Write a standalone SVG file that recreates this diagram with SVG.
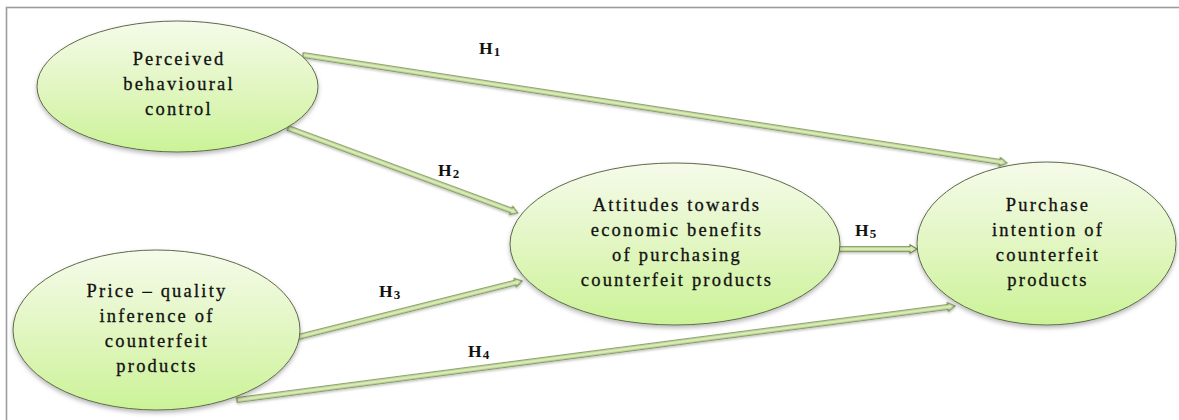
<svg xmlns="http://www.w3.org/2000/svg" width="1179" height="420" viewBox="0 0 1179 420">
  <defs>
    <linearGradient id="nodeFill" x1="0" y1="0" x2="0" y2="1">
      <stop offset="0" stop-color="#f5fbea"/>
      <stop offset="0.5" stop-color="#e2f6c2"/>
      <stop offset="1" stop-color="#cbf397"/>
    </linearGradient>
    <filter id="shadow" x="-10%" y="-10%" width="120%" height="130%">
      <feDropShadow dx="0" dy="2.5" stdDeviation="2" flood-color="#000" flood-opacity="0.28"/>
    </filter>
    <filter id="lineShadow" x="-5%" y="-50%" width="110%" height="200%">
      <feDropShadow dx="0" dy="1.5" stdDeviation="1" flood-color="#000" flood-opacity="0.25"/>
    </filter>
  </defs>
  <style>
    .frame { fill: none; stroke: #9c9c9c; stroke-width: 1.6; }
    .node ellipse { fill: url(#nodeFill); stroke: #5d6a48; stroke-width: 1; filter: url(#shadow); }
    .node text { font-size: 18.5px; letter-spacing: 2.2px; fill: #111; stroke: #111; stroke-width: 0.3; text-anchor: middle; }
    .arrow { fill: #d9ebb6; stroke: #6f8a44; stroke-width: 1.1; stroke-linejoin: miter; filter: url(#lineShadow); }
    .label { font-size: 17.5px; font-weight: bold; fill: #111; letter-spacing: 1.2px; }
    .label tspan { font-size: 13px; }
  </style>

  <rect width="1179" height="420" fill="#ffffff"/>
  <rect class="frame" x="6.5" y="7.5" width="1190" height="430"/>

  <!-- connectors: hollow block arrows laid along the x axis, then placed -->
  <g id="connectors" font-family="Liberation Serif, Times New Roman, serif">
    <polygon class="arrow" transform="translate(303,55) rotate(8.72)" points="0,-2.2 705,-2.2 705,-4.2 712,0 705,4.2 705,2.2 0,2.2"/>
    <polygon class="arrow" transform="translate(288,128) rotate(20.28)" points="0,-2.2 238,-2.2 238,-4.2 245,0 238,4.2 238,2.2 0,2.2"/>
    <polygon class="arrow" transform="translate(298,337) rotate(-14.04)" points="0,-2.2 224,-2.2 224,-4.2 231,0 224,4.2 224,2.2 0,2.2"/>
    <polygon class="arrow" transform="translate(237,400) rotate(-7.46)" points="0,-2.2 717,-2.2 717,-4.2 724,0 717,4.2 717,2.2 0,2.2"/>
    <polygon class="arrow" transform="translate(838,249)" points="0,-2.2 72,-2.2 72,-4.2 79,0 72,4.2 72,2.2 0,2.2"/>

    <text class="label" x="479" y="54">H<tspan dy="2">1</tspan></text>
    <text class="label" x="438" y="176">H<tspan dy="2">2</tspan></text>
    <text class="label" x="379" y="297">H<tspan dy="2">3</tspan></text>
    <text class="label" x="468" y="357">H<tspan dy="2">4</tspan></text>
    <text class="label" x="855" y="236">H<tspan dy="2">5</tspan></text>
  </g>

  <g id="perceived-behavioural-control" class="node" font-family="Liberation Serif, Times New Roman, serif">
    <ellipse cx="177.5" cy="86.5" rx="140.5" ry="65.5"/>
    <text x="179" y="65">Perceived</text>
    <text x="179" y="90">behavioural</text>
    <text x="179" y="115">control</text>
  </g>

  <g id="price-quality-inference" class="node" font-family="Liberation Serif, Times New Roman, serif">
    <ellipse cx="156.5" cy="330" rx="143.5" ry="80"/>
    <text x="157" y="297">Price – quality</text>
    <text x="157" y="322">inference of</text>
    <text x="157" y="347">counterfeit</text>
    <text x="157" y="372">products</text>
  </g>

  <g id="attitudes-economic-benefits" class="node" font-family="Liberation Serif, Times New Roman, serif">
    <ellipse cx="675" cy="244" rx="165" ry="81"/>
    <text x="677" y="211">Attitudes towards</text>
    <text x="677" y="236">economic benefits</text>
    <text x="677" y="261">of purchasing</text>
    <text x="677" y="286">counterfeit products</text>
  </g>

  <g id="purchase-intention" class="node" font-family="Liberation Serif, Times New Roman, serif">
    <ellipse cx="1046.5" cy="243.5" rx="129.5" ry="81.5"/>
    <text x="1048" y="211">Purchase</text>
    <text x="1048" y="236">intention of</text>
    <text x="1048" y="261">counterfeit</text>
    <text x="1048" y="286">products</text>
  </g>
</svg>
